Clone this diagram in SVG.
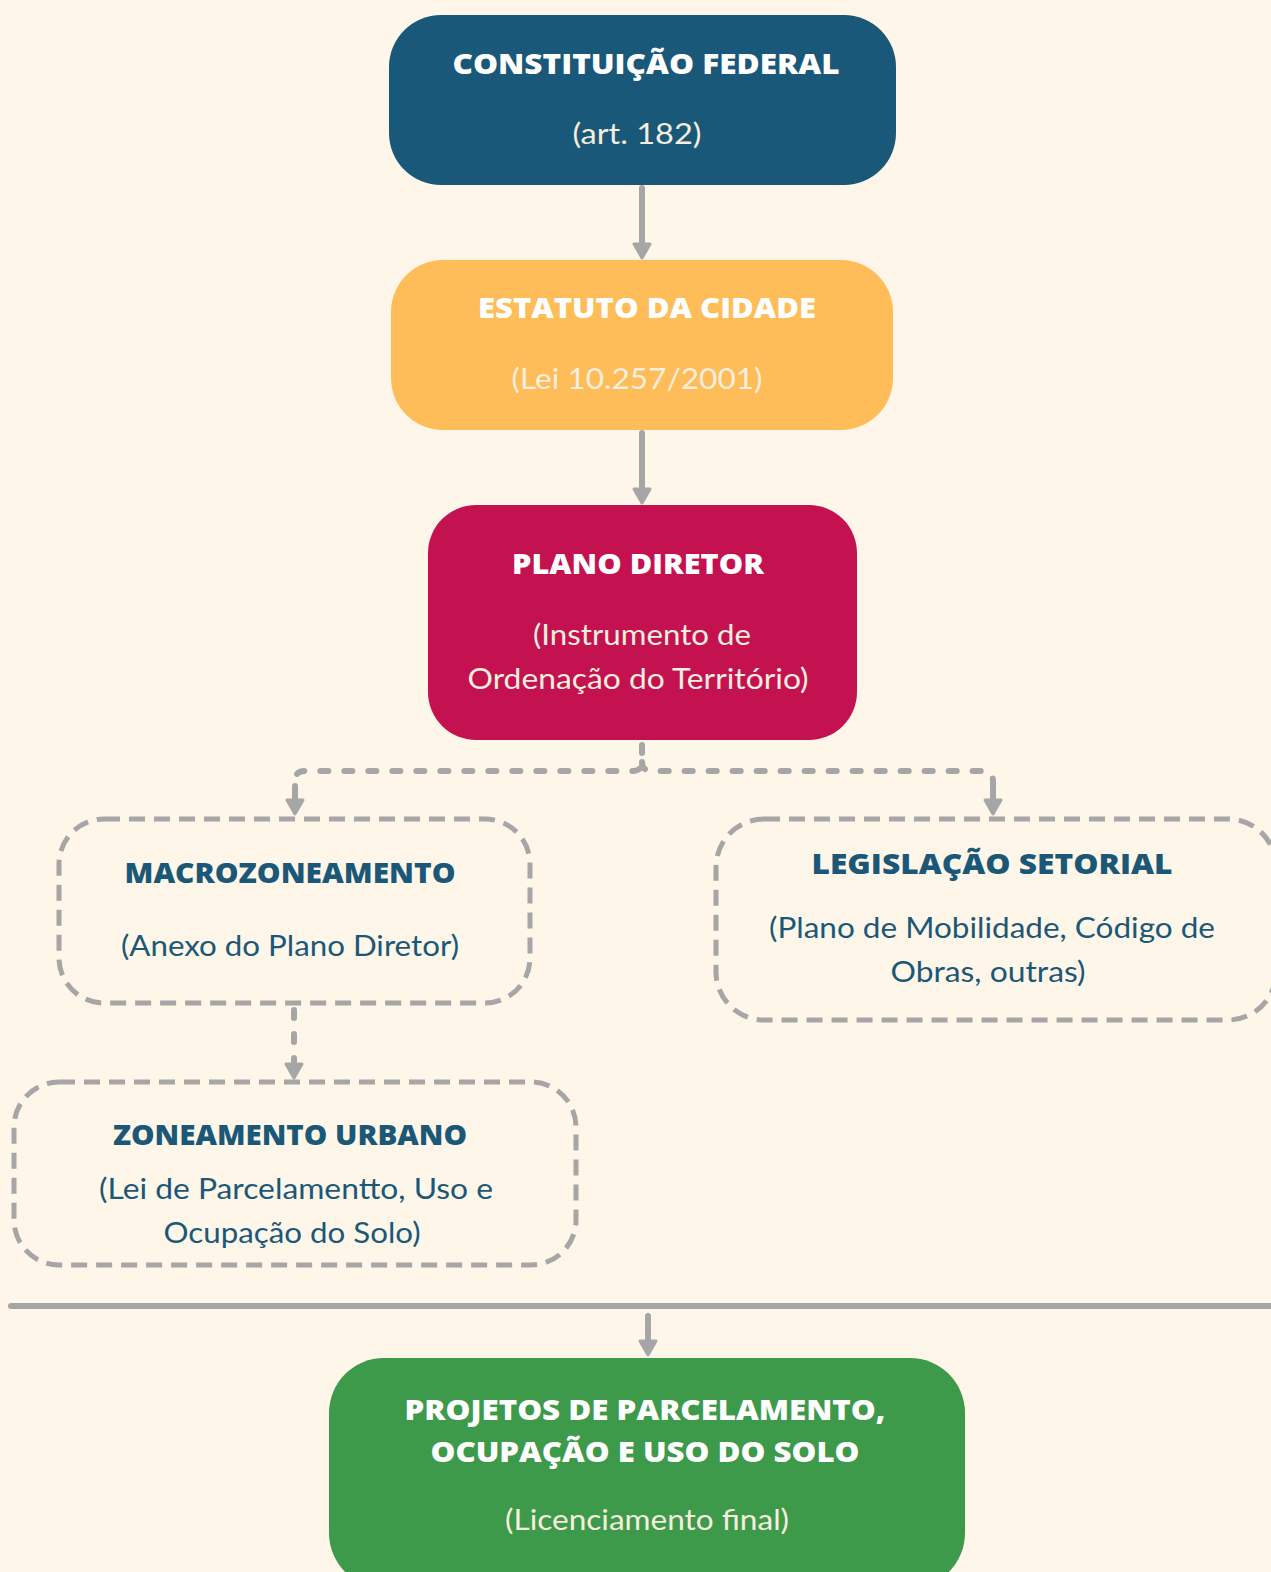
<svg xmlns="http://www.w3.org/2000/svg" width="1271" height="1572" viewBox="0 0 1271 1572">
<defs>
<style>
.t{font-family:"Open Sans","Liberation Sans",sans-serif;font-weight:800;font-size:29px;text-anchor:middle}
.s{font-family:"Lato","Liberation Sans",sans-serif;font-weight:400;font-size:28px;text-anchor:middle}
.w{fill:#ffffff}
.c{fill:#f6eede}
.b{fill:#1b5878}
.dbox{fill:none;stroke:#a6a6a6;stroke-width:5;stroke-dasharray:16 9}
.con{fill:none;stroke:#a6a6a6;stroke-width:6;stroke-linecap:round}
.dash{stroke-dasharray:8 16}
.head{fill:#a6a6a6;stroke:#a6a6a6;stroke-width:3;stroke-linejoin:round}
</style>
</defs>
<rect width="1271" height="1572" fill="#fef6e9"/>

<g id="connectors">
<path class="con" d="M642,188 V246"/>
<path class="head" d="M634,244 L650,244 L642,258 Z"/>
<path class="con" d="M642,433 V490"/>
<path class="head" d="M634,489 L650,489 L642,503 Z"/>
<path class="con dash" d="M642,745 V762 Q642,771 632,771 H305 Q295,771 295,781 V790"/>
<path class="con dash" d="M642,762 Q642,771 652,771 H983 Q993,771 993,781 V790"/>
<path class="con" d="M295,786 V800"/>
<path class="head" d="M287,800 L303,800 L295,814 Z"/>
<path class="con" d="M993,786 V800"/>
<path class="head" d="M985,800 L1001,800 L993,814 Z"/>
<path class="con dash" d="M294,1010 V1062"/>
<path class="head" d="M286,1064 L302,1064 L294,1078 Z"/>
<path d="M11,1306 H1271" stroke="#a6a6a6" stroke-width="6" stroke-linecap="round"/>
<path class="con" d="M648,1316 V1342"/>
<path class="head" d="M640,1341 L656,1341 L648,1355 Z"/>
</g>

<g id="constituicao">
<rect x="389" y="15" width="507" height="170" rx="52" fill="#1a5879"/>
<text class="t w" x="646" y="74" textLength="387" lengthAdjust="spacingAndGlyphs">CONSTITUIÇÃO FEDERAL</text>
<text class="s c" x="637" y="144" textLength="129" lengthAdjust="spacingAndGlyphs">(art. 182)</text>
</g>

<g id="estatuto">
<rect x="391" y="260" width="502" height="170" rx="52" fill="#febd59"/>
<text class="t w" x="647" y="318" textLength="338" lengthAdjust="spacingAndGlyphs">ESTATUTO DA CIDADE</text>
<text class="s c" x="637" y="389" textLength="251" lengthAdjust="spacingAndGlyphs">(Lei 10.257/2001)</text>
</g>

<g id="plano">
<rect x="428" y="505" width="429" height="235" rx="48" fill="#c41150"/>
<text class="t w" x="638" y="574" textLength="252" lengthAdjust="spacingAndGlyphs">PLANO DIRETOR</text>
<text class="s c" x="642" y="645" textLength="218" lengthAdjust="spacingAndGlyphs">(Instrumento de</text>
<text class="s c" x="638" y="689" textLength="341" lengthAdjust="spacingAndGlyphs">Ordenação do Território)</text>
</g>

<g id="macro">
<rect class="dbox" x="59" y="819" width="471" height="184" rx="45"/>
<text class="t b" x="290" y="883" textLength="331" lengthAdjust="spacingAndGlyphs">MACROZONEAMENTO</text>
<text class="s b" x="290" y="956" textLength="338" lengthAdjust="spacingAndGlyphs">(Anexo do Plano Diretor)</text>
</g>

<g id="legislacao">
<rect class="dbox" x="716" y="819" width="560" height="201" rx="48"/>
<text class="t b" x="992" y="874" textLength="361" lengthAdjust="spacingAndGlyphs">LEGISLAÇÃO SETORIAL</text>
<text class="s b" x="992" y="938" textLength="446" lengthAdjust="spacingAndGlyphs">(Plano de Mobilidade, Código de</text>
<text class="s b" x="988" y="982" textLength="195" lengthAdjust="spacingAndGlyphs">Obras, outras)</text>
</g>

<g id="zoneamento">
<rect class="dbox" x="14" y="1082" width="562" height="183" rx="45"/>
<text class="t b" x="290" y="1145" textLength="354" lengthAdjust="spacingAndGlyphs">ZONEAMENTO URBANO</text>
<text class="s b" x="296" y="1199" textLength="394" lengthAdjust="spacingAndGlyphs">(Lei de Parcelamentto, Uso e</text>
<text class="s b" x="292" y="1243" textLength="257" lengthAdjust="spacingAndGlyphs">Ocupação do Solo)</text>
</g>

<g id="projetos">
<rect x="329" y="1358" width="636" height="230" rx="55" fill="#3d9a4a"/>
<text class="t w" x="645" y="1420" textLength="481" lengthAdjust="spacingAndGlyphs">PROJETOS DE PARCELAMENTO,</text>
<text class="t w" x="645" y="1462" textLength="429" lengthAdjust="spacingAndGlyphs">OCUPAÇÃO E USO DO SOLO</text>
<text class="s c" x="647" y="1530" textLength="284" lengthAdjust="spacingAndGlyphs">(Licenciamento final)</text>
</g>
</svg>
